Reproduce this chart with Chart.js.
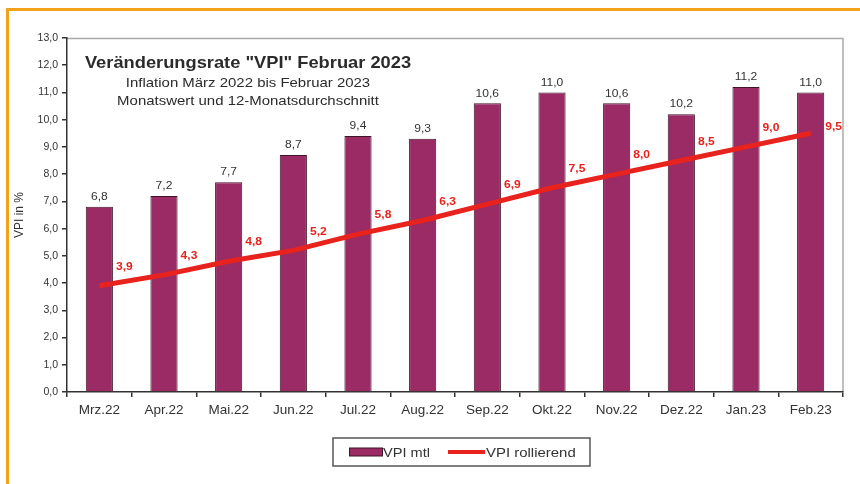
<!DOCTYPE html>
<html>
<head>
<meta charset="utf-8">
<script src="https://cdn.jsdelivr.net/npm/chart.js@4.4.0/dist/chart.umd.min.js"></script>
<style>
html,body{margin:0;padding:0;background:#fff;}
#wrap{position:absolute;left:0;top:0;width:860px;height:484px;}
</style>
</head>
<body>
<div id="wrap"><canvas id="c" width="860" height="484"></canvas></div>
<script>
const categories = ['Mrz.22','Apr.22','Mai.22','Jun.22','Jul.22','Aug.22','Sep.22','Okt.22','Nov.22','Dez.22','Jan.23','Feb.23'];
const vpiMonthly = [6.8, 7.2, 7.7, 8.7, 9.4, 9.3, 10.6, 11.0, 10.6, 10.2, 11.2, 11.0];
const vpiRolling = [3.9, 4.3, 4.8, 5.2, 5.8, 6.3, 6.9, 7.5, 8.0, 8.5, 9.0, 9.5];
const titleLines = ['Veränderungsrate "VPI" Februar 2023', 'Inflation März 2022 bis Februar 2023', 'Monatswert und 12-Monatsdurchschnitt'];
const seriesNames = ['VPI mtl', 'VPI rollierend'];
const yAxisTitle = 'VPI in %';

const FONT = '"Liberation Sans", Arial, sans-serif';
const fmt = v => v.toFixed(1).replace('.', ',');

function drawText(ctx, text, x, y, font, sx, align) {
  ctx.save();
  ctx.translate(x, y);
  ctx.scale(sx, 1);
  ctx.font = font;
  ctx.textAlign = align;
  ctx.textBaseline = 'middle';
  ctx.fillText(text, 0, 0);
  ctx.restore();
}

const decor = {
  id: 'decor',
  beforeDraw(chart) {
    const ctx = chart.ctx;
    ctx.save();
    ctx.fillStyle = '#fff';
    ctx.fillRect(0, 0, chart.width, chart.height);
    ctx.strokeStyle = '#f4a21c';
    ctx.lineWidth = 3;
    ctx.beginPath();
    ctx.moveTo(860, 9.5); ctx.lineTo(7.5, 9.5); ctx.lineTo(7.5, 484);
    ctx.stroke();
    const a = chart.chartArea;
    ctx.strokeStyle = '#aaaaaa';
    ctx.lineWidth = 1.5;
    ctx.beginPath();
    ctx.moveTo(a.left, a.top + 0.5); ctx.lineTo(a.right, a.top + 0.5); ctx.lineTo(a.right, a.bottom);
    ctx.stroke();
    ctx.restore();
  },
  afterDatasetsDraw(chart) {
    const ctx = chart.ctx;
    ctx.save();
    // bar value labels
    const m0 = chart.getDatasetMeta(0);
    ctx.fillStyle = '#333';
    m0.data.forEach((el, i) => {
      drawText(ctx, fmt(vpiMonthly[i]), el.x, el.y - 10, '11.5px ' + FONT, 1.05, 'center');
    });
    // rolling value labels
    const m1 = chart.getDatasetMeta(1);
    ctx.fillStyle = '#e8231d';
    const last = m1.data.length - 1;
    m1.data.forEach((el, i) => {
      const dy = i === last ? -6 : -19;
      const dx = i === last ? 23 : 25;
      drawText(ctx, fmt(vpiRolling[i]), el.x + dx, el.y + dy, 'bold 11.5px ' + FONT, 1.05, 'center');
    });
    // titles
    ctx.fillStyle = '#2b2b2b';
    drawText(ctx, titleLines[0], 248, 63, 'bold 17px ' + FONT, 1.075, 'center');
    drawText(ctx, titleLines[1], 248, 83, '13px ' + FONT, 1.15, 'center');
    drawText(ctx, titleLines[2], 248, 101, '13px ' + FONT, 1.15, 'center');
    // legend
    const lx = 333, ly = 438, lw = 257, lh = 28;
    ctx.strokeStyle = '#555';
    ctx.lineWidth = 1.5;
    ctx.strokeRect(lx, ly, lw, lh);
    const cy = ly + lh / 2;
    ctx.fillStyle = chart.data.datasets[0].backgroundColor;
    ctx.fillRect(349, cy - 4, 33, 8);
    ctx.strokeStyle = chart.data.datasets[0].borderColor;
    ctx.lineWidth = 1;
    ctx.strokeRect(349.5, cy - 4, 33, 8);
    ctx.fillStyle = '#333';
    drawText(ctx, seriesNames[0], 383, cy + 1, '13px ' + FONT, 1.12, 'left');
    ctx.fillStyle = chart.data.datasets[1].borderColor;
    ctx.fillRect(448, cy - 2, 37, 4);
    ctx.fillStyle = '#333';
    drawText(ctx, seriesNames[1], 486, cy + 1, '13px ' + FONT, 1.15, 'left');
    ctx.restore();
  }
};

new Chart(document.getElementById('c'), {
  data: {
    labels: categories,
    datasets: [
      {
        type: 'bar',
        label: seriesNames[0],
        data: vpiMonthly,
        backgroundColor: '#9b2b64',
        borderColor: '#3d1528',
        borderWidth: 1,
        categoryPercentage: 0.42,
        barPercentage: 1.0,
        order: 2
      },
      {
        type: 'line',
        label: seriesNames[1],
        data: vpiRolling,
        borderColor: '#e8231d',
        backgroundColor: '#e8231d',
        borderWidth: 5,
        pointRadius: 0,
        tension: 0,
        order: 1
      }
    ]
  },
  options: {
    responsive: false,
    animation: false,
    layout: { padding: { left: 10, right: 17, top: 38, bottom: 0 } },
    plugins: { legend: { display: false }, tooltip: { enabled: false } },
    scales: {
      x: {
        offset: true,
        grid: { offset: true, drawOnChartArea: false, tickLength: 5, color: '#333', lineWidth: 1.5 },
        border: { color: '#333', width: 1.5 },
        ticks: { color: '#333', font: { family: FONT, size: 13.5 }, padding: 5, maxRotation: 0 },
        afterFit: s => { s.height = 92; }
      },
      y: {
        min: 0, max: 13,
        grid: { drawOnChartArea: false, tickLength: 5, color: '#333', lineWidth: 1.5 },
        border: { color: '#333', width: 1.5 },
        ticks: { stepSize: 1, color: '#333', font: { family: FONT, size: 10.5 }, padding: 4, callback: v => fmt(v) },
        title: { display: true, text: yAxisTitle, color: '#333', font: { family: FONT, size: 12 }, padding: 2 },
        afterFit: s => { s.width = 57; }
      }
    }
  },
  plugins: [decor]
});
</script>
</body>
</html>
